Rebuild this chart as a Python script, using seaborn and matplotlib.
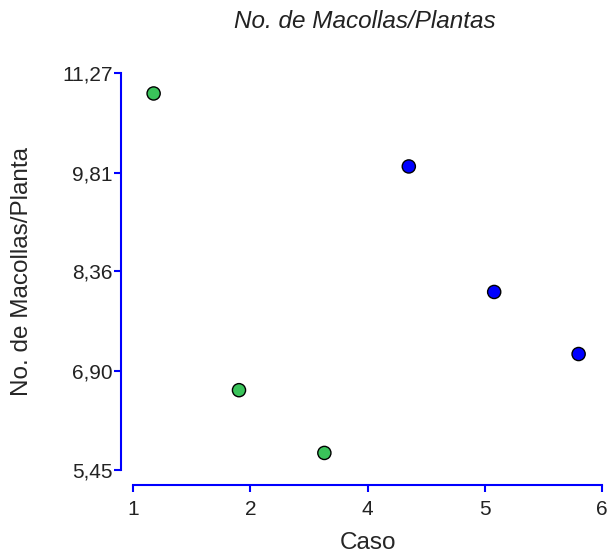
import pandas as pd
import matplotlib
matplotlib.use('Agg')
import matplotlib.pyplot as plt
import seaborn as sns

# Data
caso = [1.22, 2.13, 3.04, 3.94, 4.85, 5.75]
macollas = [10.97, 6.62, 5.70, 9.90, 8.06, 7.15]
grupo = ['A', 'A', 'A', 'B', 'B', 'B']
yTicks = [5.45, 6.90, 8.36, 9.81, 11.27]
yTickLabels = ['5,45', '6,90', '8,36', '9,81', '11,27']
xTicks = [1, 2.25, 3.5, 4.75, 6]
xTickLabels = ['1', '2', '4', '5', '6']

df = pd.DataFrame({'Caso': caso, 'Macollas': macollas, 'Grupo': grupo})

sns.set_style("white")
plt.rcParams['font.family'] = ['Liberation Sans', 'DejaVu Sans']

fig = plt.figure(figsize=(6.1, 5.56), dpi=100)
ax = fig.add_axes([0.218, 0.1547, 0.769, 0.714])

# green = first three cases, blue = last three
sns.scatterplot(data=df, x='Caso', y='Macollas', hue='Grupo',
                palette={'A': '#3ac35a', 'B': '#0000ff'},
                s=90, edgecolor='black', linewidth=1.0, legend=False, ax=ax)

ax.set_xlim(1, 6)
ax.set_ylim(5.45, 11.27)
ax.set_xticks(xTicks)
ax.set_xticklabels(xTickLabels)
ax.set_yticks(yTicks)
ax.set_yticklabels(yTickLabels)

# detached blue axes
for side in ['top', 'right']:
    ax.spines[side].set_visible(False)
ax.spines['left'].set_position(('outward', 8.6))
ax.spines['bottom'].set_position(('outward', 10.8))
for side in ['left', 'bottom']:
    ax.spines[side].set_color('#0000ff')
    ax.spines[side].set_linewidth(1.5)

ax.tick_params(axis='both', direction='out', length=5, width=1.5, color='#0000ff',
               labelsize=15, labelcolor='#222222', left=True, bottom=True)
ax.tick_params(axis='y', pad=1)
ax.tick_params(axis='x', pad=6)

ax.set_xlabel('Caso', fontsize=17.5)
ax.set_ylabel('No. de Macollas/Planta', fontsize=17.5)
ax.xaxis.set_label_coords(0.5, -0.156)
ax.yaxis.set_label_coords(-0.213, 0.5)
fig.text(365 / 610, 1 - 21 / 556, 'No. de Macollas/Plantas', fontsize=17.5,
         style='italic', ha='center', va='center', color='#222222')

fig.savefig('out.png', dpi=100)
plt.close(fig)
